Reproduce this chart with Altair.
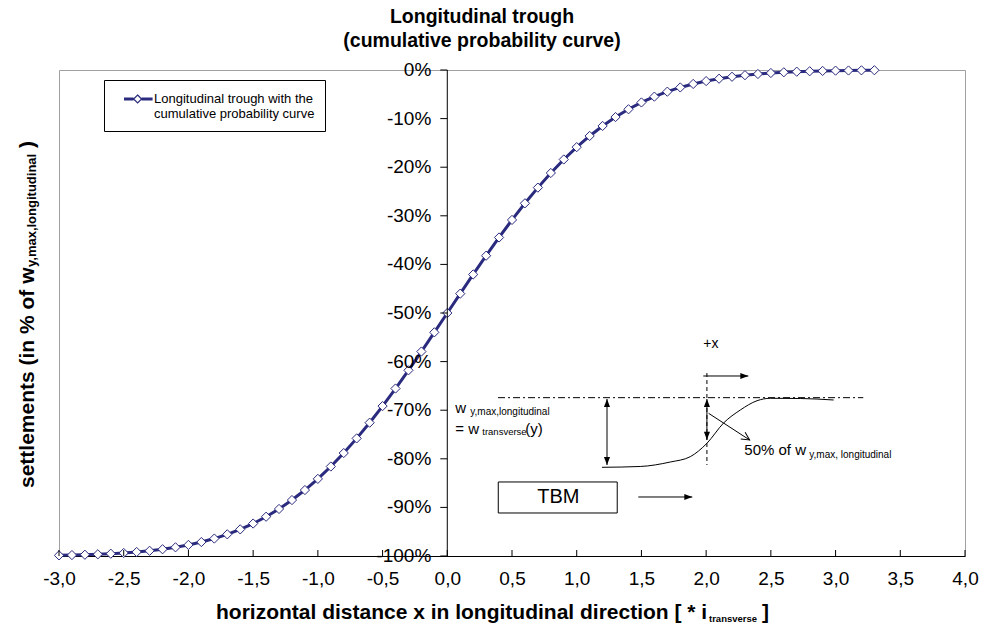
import altair as alt
import pandas as pd

# ---------------- data ----------------
x_values = [-3.0, -2.9, -2.8, -2.7, -2.6, -2.5, -2.4, -2.3, -2.2, -2.1,
            -2.0, -1.9, -1.8, -1.7, -1.6, -1.5, -1.4, -1.3, -1.2, -1.1,
            -1.0, -0.9, -0.8, -0.7, -0.6, -0.5, -0.4, -0.3, -0.2, -0.1,
            0.0,
            0.1, 0.2, 0.3, 0.4, 0.5, 0.6, 0.7, 0.8, 0.9, 1.0,
            1.1, 1.2, 1.3, 1.4, 1.5, 1.6, 1.7, 1.8, 1.9, 2.0,
            2.1, 2.2, 2.3, 2.4, 2.5, 2.6, 2.7, 2.8, 2.9, 3.0,
            3.1, 3.2, 3.3]
settlement = [-0.9987, -0.9981, -0.9974, -0.9965, -0.9953, -0.9938, -0.9918, -0.9893, -0.9861, -0.9821,
              -0.9772, -0.9713, -0.9641, -0.9554, -0.9452, -0.9332, -0.9192, -0.9032, -0.8849, -0.8643,
              -0.8413, -0.8159, -0.7881, -0.7580, -0.7257, -0.6915, -0.6554, -0.6179, -0.5793, -0.5398,
              -0.5000,
              -0.4602, -0.4207, -0.3821, -0.3446, -0.3085, -0.2743, -0.2420, -0.2119, -0.1841, -0.1587,
              -0.1357, -0.1151, -0.0968, -0.0808, -0.0668, -0.0548, -0.0446, -0.0359, -0.0287, -0.0228,
              -0.0179, -0.0139, -0.0107, -0.0082, -0.0062, -0.0047, -0.0035, -0.0026, -0.0019, -0.0013,
              -0.0010, -0.0007, -0.0005]
series_name = "Longitudinal trough with the cumulative probability curve"
legend_lines = ["Longitudinal trough with the", "cumulative probability curve"]
x_ticks = [-3.0, -2.5, -2.0, -1.5, -1.0, -0.5, 0.0, 0.5, 1.0, 1.5, 2.0, 2.5, 3.0, 3.5, 4.0]
y_ticks = [-1.0, -0.9, -0.8, -0.7, -0.6, -0.5, -0.4, -0.3, -0.2, -0.1, 0.0]
y_axis_crossing = 0.0   # the value axis crosses the category axis at x = 0

title_lines = ["Longitudinal trough", "(cumulative probability curve)"]
x_title = ["horizontal distance x in longitudinal direction [ * i", "transverse", "]"]
y_title = ["settlements (in % of w", "y,max,longitudinal", ")"]

# ---- inset sketch (in data units of the chart) ----
sketch_curve_x = [1.195, 1.491, 1.723, 1.877, 2.006, 2.135, 2.264, 2.393, 2.495, 2.727, 2.985]
sketch_curve_y = [-0.8175, -0.8158, -0.8066, -0.7957, -0.7681, -0.7263, -0.6996, -0.6805, -0.6755, -0.6759, -0.679]

seg_x = [1.234, 2.006, 1.978, 2.019, 1.476]
seg_x2 = [1.234, 2.006, 2.326, 2.336, 1.893]
seg_y = [-0.677, -0.677, -0.6296, -0.7064, -0.8786]
seg_y2 = [-0.8128, -0.761, -0.6296, -0.7613, -0.8786]

dashdot_line = {"x": [0.392], "x2": [3.214], "y": [-0.6742], "y2": [-0.6742]}
dashed_line = {"x": [2.006], "x2": [2.006], "y": [-0.6235], "y2": [-0.8128]}

head_x = [1.234, 1.234, 2.006, 2.006, 2.326, 1.893]
head_y = [-0.677, -0.8128, -0.677, -0.761, -0.6296, -0.8786]
head_angle = [270, 90, 270, 90, 0, 0]

open_head_x = [2.336]
open_head_y = [-0.7613]
open_head_angle = [33]

tbm_box = {"x": [0.394], "x2": [1.313], "y": [-0.8477], "y2": [-0.9115]}

sketch_text = ["+x", "w", "y,max,longitudinal", "= w", "transverse", "(y)", "50% of w", "y,max, longitudinal"]
sketch_text_x = [1.978, 0.062, 0.178, 0.062, 0.2704, 0.6026, 2.2947, 2.797]
sketch_text_y = [-0.5638, -0.6955, -0.7037, -0.7387, -0.7449, -0.7387, -0.7819, -0.7922]
sketch_text_size = [14, 15, 10, 15, 9.5, 15, 15, 10]

tbm_label = ["TBM"]
tbm_label_x = [0.858]
tbm_label_y = [-0.8786]

# ---------------- styling ----------------
FONT = "Liberation Sans"
NAVY = "#2A2A7E"
W, H = 906, 486

df = pd.DataFrame({"x": x_values, "y": settlement, "series": series_name})

xscale = alt.Scale(domain=[min(x_ticks), max(x_ticks)], nice=False, zero=False)
yscale = alt.Scale(domain=[min(y_ticks), max(y_ticks)], nice=False, zero=False)

x_label_expr = "replace((datum.value < 0 ? '-' : '') + format(abs(datum.value), '.1f'), '.', ',')"

# the same axis definition is used by every layer so that the merged axis stays
bottom_axis = alt.Axis(orient="bottom", values=x_ticks, labelExpr=x_label_expr, title=None,
                       ticks=False, tickSize=0, labelPadding=13, labelFont=FONT, labelFontSize=19,
                       labelColor="black", domainColor="black", domainWidth=1, grid=False,
                       labelFlush=False, labelOverlap=False)

legend_path = ("M0.125,-0.125 L1.325,-0.125 M0.125,0 L1.325,0 M0.125,0.125 L1.325,0.125 "
               "M2.325,-0.125 L3.7,-0.125 M2.325,0 L3.7,0 M2.325,0.125 L3.7,0.125 "
               "M1.825,-0.5 L2.325,0 L1.825,0.5 L1.325,0 Z")
legend = alt.Legend(orient="none", legendX=45, legendY=10, title=None, strokeColor="black",
                    fillColor="white", padding=10, symbolType=legend_path, symbolSize=256,
                    symbolStrokeWidth=1.2, symbolFillColor="white", labelFont=FONT, labelFontSize=13,
                    labelColor="black", labelLimit=0, labelOffset=22,
                    labelExpr="['" + legend_lines[0] + "', '" + legend_lines[1] + "']",
                    cornerRadius=0)


def xq(name):
    return alt.X(name, type="quantitative", scale=xscale, axis=bottom_axis)


def yq(name):
    return alt.Y(name, type="quantitative", scale=yscale, axis=None)


line = alt.Chart(df).mark_line(strokeWidth=3).encode(
    x=xq("x"),
    y=yq("y"),
    color=alt.Color("series:N", scale=alt.Scale(range=[NAVY]), legend=legend),
)
points = alt.Chart(df).mark_point(shape="diamond", size=85, filled=True, fill="white",
                                  stroke=NAVY, strokeWidth=1, opacity=1).encode(
    x=xq("x"), y=yq("y"))

# value axis drawn where it crosses x = 0 (ticks pointing left, labels left)
yaxis_df = pd.DataFrame({"y": y_ticks, "x": y_axis_crossing})
yaxis_domain = alt.Chart(pd.DataFrame({"x": [y_axis_crossing], "y": [min(y_ticks)], "y2": [max(y_ticks)]})
                         ).mark_rule(color="black", strokeWidth=1).encode(x=xq("x"), y=yq("y"), y2="y2")
yaxis_ticks = alt.Chart(yaxis_df).mark_tick(orient="horizontal", size=7, thickness=1, color="black",
                                           xOffset=-3.5, opacity=1).encode(x=xq("x"), y=yq("y"))
yaxis_labels = alt.Chart(yaxis_df).transform_calculate(
    lbl="round(datum.y * 100) + '%'").mark_text(
    align="right", baseline="middle", dx=-16, font=FONT, fontSize=19, color="black").encode(
    x=xq("x"), y=yq("y"), text="lbl:N")

# category-axis ticks pointing upwards from the bottom axis
xaxis_df = pd.DataFrame({"x": x_ticks, "y": min(y_ticks)})
xaxis_ticks = alt.Chart(xaxis_df).mark_tick(orient="vertical", size=6, thickness=1, color="black",
                                           yOffset=-3, opacity=1).encode(x=xq("x"), y=yq("y"))

box = alt.Chart(pd.DataFrame(tbm_box)).mark_rect(fill="white", stroke="black", strokeWidth=1).encode(
    x=xq("x"), x2="x2", y=yq("y"), y2="y2")

segs = alt.Chart(pd.DataFrame({"x": seg_x, "x2": seg_x2, "y": seg_y, "y2": seg_y2})).mark_rule(
    color="black", strokeWidth=1).encode(x=xq("x"), x2="x2", y=yq("y"), y2="y2")

dashdot = alt.Chart(pd.DataFrame(dashdot_line)).mark_rule(
    color="black", strokeWidth=1, strokeDash=[7, 3, 2, 3]).encode(x=xq("x"), x2="x2", y=yq("y"), y2="y2")
dashed = alt.Chart(pd.DataFrame(dashed_line)).mark_rule(
    color="black", strokeWidth=1, strokeDash=[4, 3]).encode(x=xq("x"), x2="x2", y=yq("y"), y2="y2")

curve = alt.Chart(pd.DataFrame({"x": sketch_curve_x, "y": sketch_curve_y})).mark_line(
    color="black", strokeWidth=1, interpolate="monotone").encode(x=xq("x"), y=yq("y"))

heads = alt.Chart(pd.DataFrame({"x": head_x, "y": head_y, "a": head_angle})).mark_point(
    shape="M0,0 L-1,-0.38 L-1,0.38 Z", size=256, filled=True, color="black", opacity=1).encode(
    x=xq("x"), y=yq("y"), angle=alt.Angle("a:Q", scale=None))

open_heads = alt.Chart(pd.DataFrame({"x": open_head_x, "y": open_head_y, "a": open_head_angle})).mark_point(
    shape="M-1,-0.5 L0,0 L-1,0.5", size=256, filled=False, color="black", strokeWidth=1, opacity=1).encode(
    x=xq("x"), y=yq("y"), angle=alt.Angle("a:Q", scale=None))

stexts = alt.Chart(pd.DataFrame({"x": sketch_text_x, "y": sketch_text_y, "t": sketch_text,
                                 "fs": sketch_text_size})).mark_text(
    align="left", baseline="middle", font=FONT, color="black").encode(
    x=xq("x"), y=yq("y"), text="t:N", size=alt.Size("fs:Q", scale=None))

tbm_text = alt.Chart(pd.DataFrame({"x": tbm_label_x, "y": tbm_label_y, "t": tbm_label})).mark_text(
    align="center", baseline="middle", font=FONT, fontSize=20, color="black").encode(
    x=xq("x"), y=yq("y"), text="t:N")


def label(txt, x, y, size, weight="normal", align="left", angle=0):
    props = dict(text=txt, align=align, baseline="alphabetic", font=FONT, fontSize=size,
                 fontWeight=weight, color="black")
    if angle:
        props["angle"] = angle
    return alt.Chart(alt.Data(values=[{}])).mark_text(**props).encode(
        x=alt.value(x), y=alt.value(y))


titles = [
    label(title_lines[0], 423, -47, 19.5, "bold", "center"),
    label(title_lines[1], 423, -23, 19.5, "bold", "center"),
    label(x_title[0], 157, 549, 21, "bold"),
    label(x_title[1], 650, 552, 9.5, "bold"),
    label(x_title[2], 703, 549, 21, "bold"),
    label(y_title[0], -25, 418, 21, "bold", "left", 270),
    label(y_title[1], -23, 197, 13, "bold", "left", 270),
    label(y_title[2], -25, 78, 21, "bold", "left", 270),
]

chart = alt.layer(line, points, yaxis_labels, yaxis_domain, yaxis_ticks, xaxis_ticks,
                  box, segs, dashdot, dashed, curve, heads, open_heads,
                  stexts, tbm_text, *titles).properties(
    width=W, height=H,
    padding={"left": 59, "top": 70, "right": 17, "bottom": 75},
    autosize=alt.AutoSizeParams(type="none"),
    background="white",
).configure_view(stroke="#A0A0A0", strokeWidth=1)

chart.save("out.html", embed_options={"renderer": "svg", "actions": False})
